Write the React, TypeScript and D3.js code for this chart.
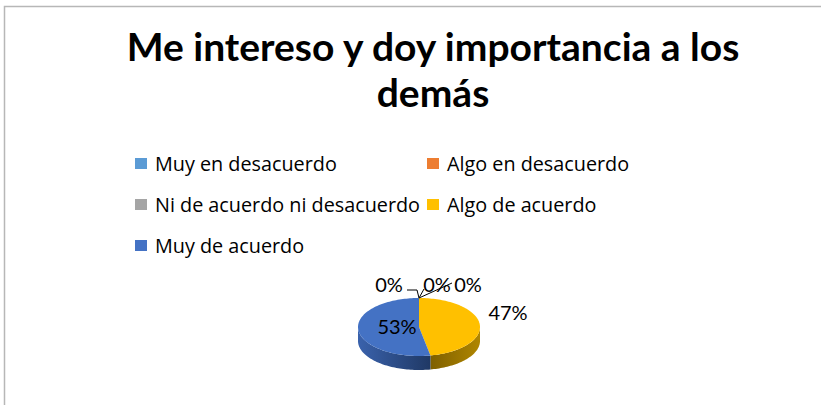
import React from "react";
import * as d3 from "d3";

const categories = [
  "Muy en desacuerdo",
  "Algo en desacuerdo",
  "Ni de acuerdo ni desacuerdo",
  "Algo de acuerdo",
  "Muy de acuerdo",
];
const values = [0, 0, 0, 47, 53];
const colors = ["#5B9BD5", "#ED7D31", "#A5A5A5", "#FFC000", "#4472C4"];
const sideDark = ["#2E5A87", "#8A4415", "#5E5E5E", "#7F6000", "#1F3864"];
const sideLight = ["#4A80B5", "#C06020", "#8A8A8A", "#B08600", "#3A62AC"];
const titleLines = ["Me intereso y doy importancia a los", "demás"];

const W = 821;
const H = 405;
const cx = 419;
const cy = 327;
const rx = 61;
const ry = 29;
const depth = 14;

function pt(a: number, dy = 0): [number, number] {
  return [cx + rx * Math.sin(a), cy - ry * Math.cos(a) + dy];
}

function arcPts(a0: number, a1: number, dy = 0): [number, number][] {
  const n = Math.max(2, Math.ceil(Math.abs(a1 - a0) / 0.03));
  const out: [number, number][] = [];
  for (let i = 0; i <= n; i++) out.push(pt(a0 + ((a1 - a0) * i) / n, dy));
  return out;
}

export default function App() {
  const pie = d3.pie<number>().sort(null).value((d) => d);
  const arcs = pie(values);
  const line = d3.line();
  const fmt = d3.format(".0%");
  const total = d3.sum(values);

  const sides: React.ReactNode[] = [];
  const tops: React.ReactNode[] = [];
  arcs.forEach((a, i) => {
    if (a.endAngle - a.startAngle <= 0) return;
    const s = Math.max(a.startAngle, Math.PI / 2);
    const e = Math.min(a.endAngle, (3 * Math.PI) / 2);
    if (e > s) {
      const top = arcPts(s, e);
      const bot = arcPts(e, s, depth);
      sides.push(
        <path
          key={"s" + i}
          d={(line([...top, ...bot]) || "") + "Z"}
          fill={`url(#g${i})`}
        />
      );
    }
    const face = [[cx, cy] as [number, number], ...arcPts(a.startAngle, a.endAngle)];
    tops.push(<path key={"t" + i} d={(line(face) || "") + "Z"} fill={colors[i]} />);
  });

  const legendX = [135, 427];
  const legendY = [164, 205, 246];

  const zeroLabels = [
    { x: 389, y: 292 },
    { x: 437, y: 292 },
    { x: 468, y: 292 },
  ];
  const top0 = pt(0);
  const labelFont = "Lato, 'Open Sans', sans-serif";

  return (
    <svg width={W} height={H} style={{ position: "absolute", left: 0, top: 0 }}>
      <defs>
        {colors.map((c, i) => (
          <linearGradient key={i} id={`g${i}`} x1={cx - rx} x2={cx + rx} y1={0} y2={0} gradientUnits="userSpaceOnUse">
            <stop offset="0" stopColor={sideLight[i]} />
            <stop offset="0.6" stopColor={sideDark[i]} />
            <stop offset="1" stopColor={sideLight[i]} />
          </linearGradient>
        ))}
      </defs>
      <rect x={0} y={0} width={W} height={H} fill="#fff" />
      <path d={`M4.5,${H} V6.5 H${W}`} fill="none" stroke="#b7b7b7" strokeWidth={1.5} />
      {titleLines.map((t, i) => (
        <text
          key={i}
          x={433}
          y={61 + i * 46}
          textAnchor="middle"
          fontFamily="Lato, 'Open Sans', sans-serif"
          fontWeight="bold"
          fontSize={39}
          fill="#000"
        >
          {t}
        </text>
      ))}
      {categories.map((c, i) => {
        const col = i % 2;
        const row = Math.floor(i / 2);
        return (
          <g key={c}>
            <rect x={legendX[col]} y={legendY[row] - 6} width={12} height={11} fill={colors[i]} />
            <text
              x={legendX[col] + 20}
              y={legendY[row] + 6.5}
              fontFamily="'Open Sans', sans-serif"
              fontSize={19.8}
              fill="#000"
            >
              {c}
            </text>
          </g>
        );
      })}
      {sides}
      {tops}
      <polyline points={`407,290 417,290 ${top0[0]},${top0[1]}`} fill="none" stroke="#000" strokeWidth={1} />
      <polyline points={`424,289 ${top0[0]},${top0[1]}`} fill="none" stroke="#000" strokeWidth={1} />
      <polyline points={`452,283 ${top0[0]},${top0[1]}`} fill="none" stroke="#000" strokeWidth={1} />
      {values.slice(0, 3).map((v, i) => (
        <text
          key={"z" + i}
          x={zeroLabels[i].x}
          y={zeroLabels[i].y}
          textAnchor="middle"
          fontFamily={labelFont}
          fontSize={20}
          fill="#000"
        >
          {fmt(v / total)}
        </text>
      ))}
      <text x={508} y={320} textAnchor="middle" fontFamily={labelFont} fontSize={20} fill="#000">
        {fmt(values[3] / total)}
      </text>
      <text x={397} y={334} textAnchor="middle" fontFamily={labelFont} fontSize={20} fill="#000">
        {fmt(values[4] / total)}
      </text>
    </svg>
  );
}
